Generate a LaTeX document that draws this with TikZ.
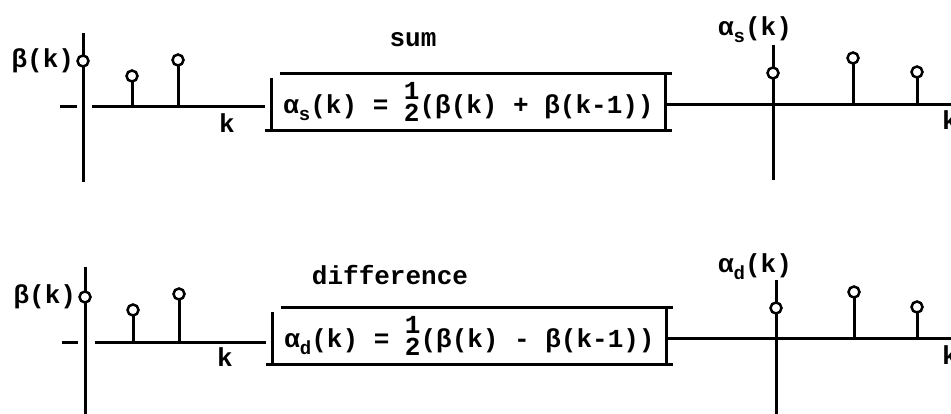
\documentclass[tikz,border=0pt]{standalone}
\usepackage{fontspec}
\setmainfont{Liberation Mono}
\usetikzlibrary{positioning}
\newcommand{\lowidx}[1]{\raisebox{-0.5ex}{\fontsize{19}{21}\selectfont #1}}
\newcommand{\halfstack}{\raisebox{-8pt}{\shortstack{1\\[2pt]2}}}
\tikzset{
  lbl/.style={font=\fontsize{26}{29}\selectfont\bfseries, inner sep=0pt},
  ax/.style={line width=3pt},
  lollipop/.style={circle, draw, fill=white, line width=2.5pt, inner sep=0pt, minimum size=11pt},
  formula/.style={lbl, minimum width=393pt, minimum height=56pt}
}
\begin{document}
\begin{tikzpicture}[x=1pt,y=-1pt]
\useasboundingbox (0,0) rectangle (951,414);
% sum
\coordinate (b1) at (83,107);
\coordinate (as) at (773,105);
\coordinate (e1) at (951,105);
\node[formula] (sumbox) at (468.5,102) {α\lowidx{s}(k) = \halfstack(β(k) + β(k-1))};
\draw[ax] ([xshift=8]sumbox.north west) -- ([xshift=7]sumbox.north east);
\draw[ax] ([yshift=-4]sumbox.north west) -- (sumbox.south west);
\draw[ax] (sumbox.north east) -- (sumbox.south east);
\draw[ax] ([xshift=-7]sumbox.south west) -- ([xshift=7]sumbox.south east);
\node[lbl] (sumlbl) at (413,40) {sum};
\draw[ax] ([xshift=-23]b1) -- ([xshift=-6]b1);
\draw[ax] ([yshift=74]b1) -- ([yshift=-75]b1);
\draw[ax] ([xshift=9]b1) -- ([xshift=-7]sumbox.west |- b1);
\node[lollipop] (p10) at ([yshift=46]b1) {};
\draw[ax] ([xshift=49]b1) -- ++(0,-31) node[lollipop] (p11) {};
\draw[ax] ([xshift=95]b1) -- ++(0,-47) node[lollipop] (p12) {};
\node[lbl, left=2pt of p10] (lb1) {β(k)};
\node[lbl] (k1) at ([xshift=144,yshift=-16]b1) {k};
\draw[ax] (sumbox.east |- as) -- (e1);
\draw[ax] ([yshift=60]as) -- ([yshift=-75]as);
\node[lollipop] (q10) at ([yshift=32]as) {};
\draw[ax] ([xshift=80]as) -- ++(0,-47) node[lollipop] (q11) {};
\draw[ax] ([xshift=144]as) -- ++(0,-33) node[lollipop] (q12) {};
\node[lbl] (las) at (755,30) {α\lowidx{s}(k)};
\node[lbl] (k2) at (950,120) {k};
% difference
\coordinate (b2) at (85,342);
\coordinate (ad) at (776,338);
\coordinate (e2) at (951,338);
\node[formula] (difbox) at (469.5,336) {α\lowidx{d}(k) = \halfstack(β(k) - β(k-1))};
\draw[ax] ([xshift=8]difbox.north west) -- ([xshift=7]difbox.north east);
\draw[ax] ([yshift=-4]difbox.north west) -- (difbox.south west);
\draw[ax] (difbox.north east) -- (difbox.south east);
\draw[ax] ([xshift=-7]difbox.south west) -- ([xshift=7]difbox.south east);
\node[lbl] (diflbl) at (390,275) {difference};
\draw[ax] ([xshift=-23]b2) -- ([xshift=-7]b2);
\draw[ax] ([yshift=75]b2) -- ([yshift=-75]b2);
\draw[ax] ([xshift=10]b2) -- ([xshift=-7]difbox.west |- b2);
\node[lollipop] (p20) at ([yshift=45]b2) {};
\draw[ax] ([xshift=48]b2) -- ++(0,-32) node[lollipop] (p21) {};
\draw[ax] ([xshift=94]b2) -- ++(0,-48) node[lollipop] (p22) {};
\node[lbl, left=2pt of p20] (lb2) {β(k)};
\node[lbl] (k3) at ([xshift=140,yshift=-15]b2) {k};
\draw[ax] (difbox.east |- ad) -- (e2);
\draw[ax] ([yshift=58]ad) -- ([yshift=-78]ad);
\node[lollipop] (q20) at ([yshift=30]ad) {};
\draw[ax] ([xshift=78]ad) -- ++(0,-46) node[lollipop] (q21) {};
\draw[ax] ([xshift=141]ad) -- ++(0,-31) node[lollipop] (q22) {};
\node[lbl] (lad) at (755,267) {α\lowidx{d}(k)};
\node[lbl] (k4) at (950,355) {k};
\end{tikzpicture}
\end{document}
